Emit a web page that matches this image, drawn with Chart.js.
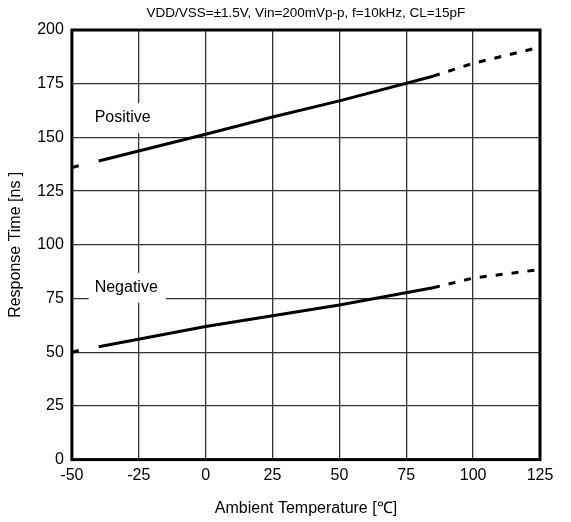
<!DOCTYPE html>
<html>
<head>
<meta charset="utf-8">
<script src="https://cdn.jsdelivr.net/npm/chart.js@4.4.0/dist/chart.umd.min.js"></script>
<style>
  body { margin: 0; background: #fff; }
  canvas { display: block; }
</style>
</head>
<body>
<canvas id="grafico" width="571" height="522"></canvas>
<script>
// values
const tempSolid = [-40, 0, 25, 50, 85];
const positivoSolid = [139, 151.5, 159.5, 167, 178.5];
const negativoSolid = [52.5, 62, 67, 72, 80];

const tempLeft = [-50, -45];
const positivoLeft = [136, 137.5];
const negativoLeft = [50, 51.5];

const tempRight = [85, 100, 125];
const positivoRight = [178.5, 184.5, 192];
const negativoRight = [80, 84.5, 88.5];

const xTicks = [-50, -25, 0, 25, 50, 75, 100, 125];
const yTicks = [0, 25, 50, 75, 100, 125, 150, 175, 200];

const titulo = "VDD/VSS=\u00b11.5V, Vin=200mVp-p, f=10kHz, CL=15pF";
const rotulos = [
  { texto: "Positive", x: -41.5, y: 159 },
  { texto: "Negative", x: -41.5, y: 80 }
];

const FONTE = "'Liberation Sans', Arial, sans-serif";

function pares(xs, ys) {
  return xs.map((x, i) => ({ x: x, y: ys[i] }));
}

function serie(xs, ys, tracejado) {
  return {
    data: pares(xs, ys),
    borderColor: "#000",
    borderWidth: 3,
    borderDash: tracejado ? [7, 9] : [],
    pointRadius: 0,
    fill: false,
    tension: 0
  };
}

// labels with white box over the grid, title over the plot, thick frame
const extras = {
  id: "extras",
  beforeDatasetsDraw(chart) {
    const ctx = chart.ctx;
    const sx = chart.scales.x, sy = chart.scales.y;
    ctx.save();
    ctx.font = "16px " + FONTE;
    ctx.textBaseline = "middle";
    rotulos.forEach((r) => {
      const px = sx.getPixelForValue(r.x);
      const py = sy.getPixelForValue(r.y);
      const w = ctx.measureText(r.texto).width;
      ctx.fillStyle = "#fff";
      ctx.fillRect(px - 6, py - 15, w + 14, 30);
      ctx.fillStyle = "#000";
      ctx.fillText(r.texto, px, py);
    });
    ctx.restore();
  },
  afterDatasetsDraw(chart) {
    const a = chart.chartArea;
    const ctx = chart.ctx;
    ctx.save();
    ctx.strokeStyle = "#000";
    ctx.lineWidth = 3;
    ctx.strokeRect(a.left, a.top, a.right - a.left, a.bottom - a.top);
    ctx.fillStyle = "#000";
    ctx.font = "13.5px " + FONTE;
    ctx.textAlign = "center";
    ctx.textBaseline = "middle";
    ctx.fillText(titulo, (a.left + a.right) / 2, a.top - 17);
    ctx.restore();
  }
};

new Chart(document.getElementById("grafico").getContext("2d"), {
  type: "line",
  data: {
    datasets: [
      serie(tempSolid, positivoSolid, false),
      serie(tempSolid, negativoSolid, false),
      serie(tempLeft, positivoLeft, true),
      serie(tempLeft, negativoLeft, true),
      serie(tempRight, positivoRight, true),
      serie(tempRight, negativoRight, true)
    ]
  },
  options: {
    responsive: false,
    animation: false,
    layout: { padding: { left: 6, right: 31, top: 30, bottom: 4 } },
    plugins: {
      legend: { display: false },
      tooltip: { enabled: false },
      title: { display: false }
    },
    scales: {
      x: {
        type: "linear",
        min: -50,
        max: 125,
        afterBuildTicks: (axis) => { axis.ticks = xTicks.map(v => ({ value: v })); },
        ticks: { color: "#000", font: { family: FONTE, size: 16 }, padding: 6 },
        grid: { color: "#333", lineWidth: 1.3, drawTicks: false },
        border: { display: false },
        title: {
          display: true,
          text: "Ambient Temperature [\u2103]",
          color: "#000",
          font: { family: FONTE, size: 16 },
          padding: { top: 8, bottom: 0 }
        }
      },
      y: {
        type: "linear",
        min: 0,
        max: 200,
        afterBuildTicks: (axis) => { axis.ticks = yTicks.map(v => ({ value: v })); },
        ticks: { color: "#000", font: { family: FONTE, size: 16 }, padding: 8 },
        grid: { color: "#333", lineWidth: 1.3, drawTicks: false },
        border: { display: false },
        title: {
          display: true,
          text: "Response Time [ns ]",
          color: "#000",
          font: { family: FONTE, size: 16 },
          padding: { top: 0, bottom: 4 }
        }
      }
    }
  },
  plugins: [extras]
});
</script>
</body>
</html>
